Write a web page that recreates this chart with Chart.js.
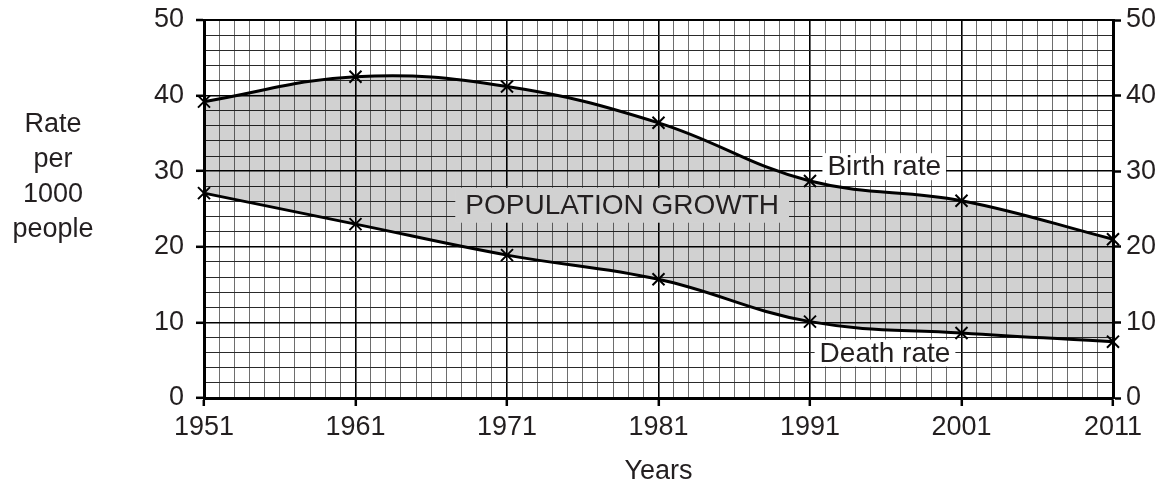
<!DOCTYPE html>
<html>
<head>
<meta charset="utf-8">
<script src="https://cdn.jsdelivr.net/npm/chart.js@4/dist/chart.umd.min.js"></script>
<style>
  html, body { margin: 0; padding: 0; background: #fff; }
  #wrap { width: 1169px; height: 489px; }
</style>
</head>
<body>
<div id="wrap"><canvas id="c" width="1169" height="489"></canvas></div>
<script>
// ---- data ----
const years = [1951, 1961, 1971, 1981, 1991, 2001, 2011];
const birthRate = [39.2, 42.5, 41.2, 36.4, 28.7, 26.1, 21.0];
const deathRate = [27.1, 23.0, 18.9, 15.7, 10.1, 8.6, 7.45];
const yTickLabels = [0, 10, 20, 30, 40, 50];
const xTickLabels = [1951, 1961, 1971, 1981, 1991, 2001, 2011];
const yTitleLines = ['Rate', 'per', '1000', 'people'];
const xTitle = 'Years';
const labels = [
  { text: 'Birth rate', x: 1995.9, y: 30.6, bg: '#ffffff' },
  { text: 'Death rate', x: 1995.95, y: 5.95, bg: '#ffffff' },
  { text: 'POPULATION GROWTH', x: 1978.6, y: 25.5, bg: '#d1d1d1' }
];

const TXT = '#231f20';
const FONT = '"Liberation Sans", Arial, Helvetica, sans-serif';

const toPts = arr => years.map((yr, i) => ({ x: yr, y: arr[i] }));

const isMajorX = v => xTickLabels.includes(Math.round(v));
const isMajorY = v => yTickLabels.includes(Math.round(v));

const decor = {
  id: 'decor',
  afterDatasetsDraw(chart) {
    const ctx = chart.ctx;
    const xs = chart.scales.x, ys = chart.scales.y;
    ctx.save();
    ctx.font = '28px ' + FONT;
    ctx.textAlign = 'center';
    ctx.textBaseline = 'middle';
    labels.forEach(l => {
      const px = xs.getPixelForValue(l.x), py = ys.getPixelForValue(l.y);
      const w = ctx.measureText(l.text).width;
      const padX = l.bg === '#ffffff' ? 5 : 10;
      const h = l.bg === '#ffffff' ? 27 : 35;
      ctx.fillStyle = l.bg;
      ctx.fillRect(px - w / 2 - padX, py - h / 2, w + 2 * padX, h);
      ctx.fillStyle = TXT;
      ctx.fillText(l.text, px, py + 1);
    });
    ctx.restore();
  },
  afterDraw(chart) {
    const ctx = chart.ctx;
    const ca = chart.chartArea;
    ctx.save();
    ctx.font = '27px ' + FONT;
    ctx.fillStyle = TXT;
    ctx.textAlign = 'center';
    ctx.textBaseline = 'alphabetic';
    const base0 = 132, step = 35;
    yTitleLines.forEach((t, i) => ctx.fillText(t, 53, base0 + i * step));
    ctx.fillText(xTitle, (ca.left + ca.right) / 2, 479);
    ctx.restore();
  }
};

const tickFont = { family: FONT, size: 27 };

const fitV = w => s => { s.width = w; s.paddingTop = 0; s.paddingBottom = 0; };

new Chart(document.getElementById('c'), {
  type: 'line',
  data: {
    datasets: [
      {
        label: 'Birth rate',
        data: toPts(birthRate),
        borderColor: '#000',
        borderWidth: 3,
        tension: 0.4,
        pointStyle: 'crossRot',
        pointRadius: 8.5,
        pointBorderWidth: 2,
        pointBorderColor: '#000',
        fill: { target: 1 },
        backgroundColor: 'rgba(0,0,0,0.18)',
        clip: false
      },
      {
        label: 'Death rate',
        data: toPts(deathRate),
        borderColor: '#000',
        borderWidth: 3,
        tension: 0.4,
        pointStyle: 'crossRot',
        pointRadius: 8.5,
        pointBorderWidth: 2,
        pointBorderColor: '#000',
        fill: false,
        clip: false
      }
    ]
  },
  options: {
    responsive: false,
    animation: false,
    devicePixelRatio: 1,
    layout: { padding: { top: 20, left: 0, right: 0, bottom: 0 } },
    plugins: { legend: { display: false }, tooltip: { enabled: false } },
    scales: {
      x: {
        type: 'linear',
        min: 1951, max: 2011,
        afterFit: s => { s.height = 91; s.paddingLeft = 0; s.paddingRight = 0; },
        ticks: {
          stepSize: 1, autoSkip: false, maxRotation: 0, maxTicksLimit: 200,
          padding: 5, color: TXT, font: tickFont,
          callback: v => isMajorX(v) ? String(Math.round(v)) : ''
        },
        grid: {
          color: c => isMajorX(c.tick.value) ? '#000' : '#6e6e6e',
          lineWidth: c => isMajorX(c.tick.value) ? 1.6 : 1,
          tickColor: c => isMajorX(c.tick.value) ? '#000' : 'rgba(0,0,0,0)',
          tickWidth: 2.5,
          tickLength: 8
        },
        border: { display: true, color: '#000', width: 3 }
      },
      y: {
        position: 'left',
        min: 0, max: 50,
        afterFit: fitV(204),
        ticks: {
          stepSize: 2, autoSkip: false, maxTicksLimit: 200,
          padding: 12, color: TXT, font: tickFont,
          callback: v => isMajorY(v) ? String(Math.round(v)) : ''
        },
        grid: {
          color: c => isMajorY(c.tick.value) ? '#000' : '#2a2a2a',
          lineWidth: c => (Math.round(c.tick.value) === 50) ? 2 : (isMajorY(c.tick.value) ? 1.6 : 1),
          tickColor: c => isMajorY(c.tick.value) ? '#000' : 'rgba(0,0,0,0)',
          tickWidth: 2.5,
          tickLength: 8
        },
        border: { display: true, color: '#000', width: 3 }
      },
      y2: {
        position: 'right',
        min: 0, max: 50,
        afterFit: fitV(56),
        ticks: {
          stepSize: 2, autoSkip: false, maxTicksLimit: 200,
          padding: 5, color: TXT, font: tickFont,
          callback: v => isMajorY(v) ? String(Math.round(v)) : ''
        },
        grid: {
          drawOnChartArea: false,
          tickColor: c => isMajorY(c.tick.value) ? '#000' : 'rgba(0,0,0,0)',
          tickWidth: 2.5,
          tickLength: 8
        },
        border: { display: true, color: '#000', width: 3 }
      }
    }
  },
  plugins: [decor]
});
</script>
</body>
</html>
